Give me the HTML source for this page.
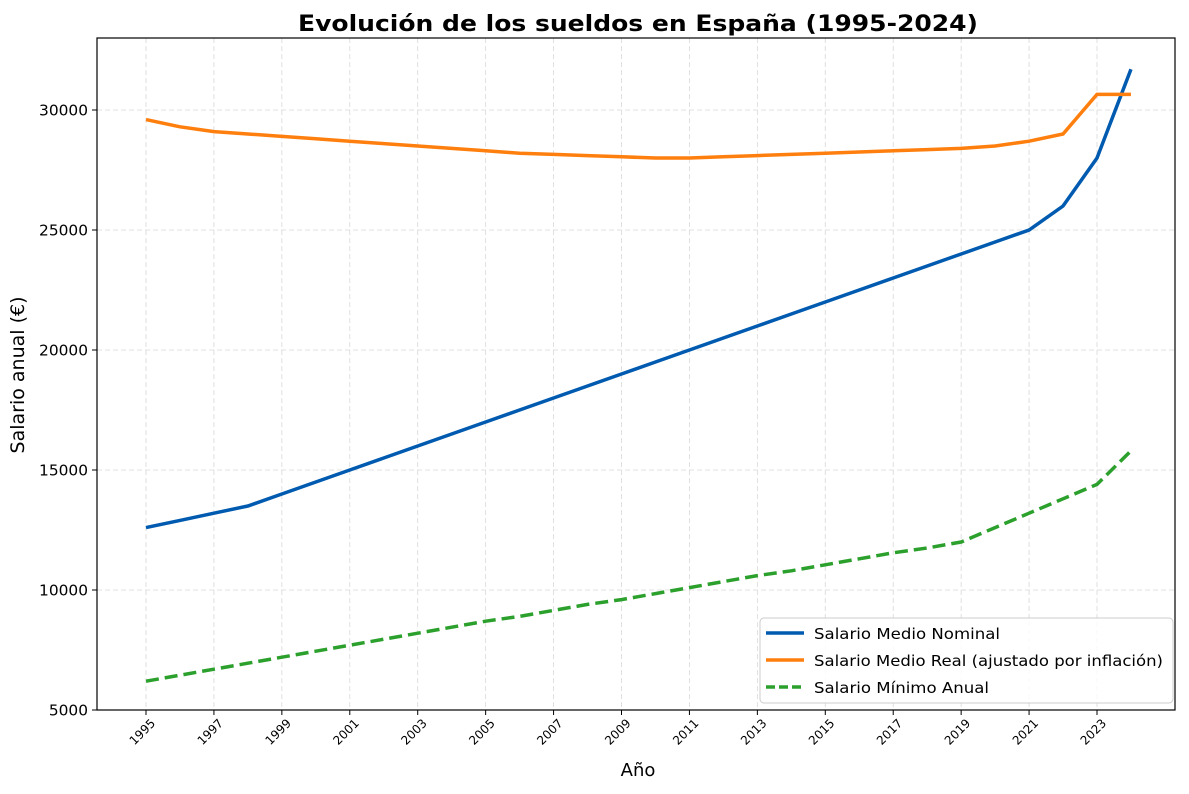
<!DOCTYPE html>
<html><head><meta charset="utf-8"><style>
body{margin:0;background:#fff;font-family:"DejaVu Sans","Liberation Sans",sans-serif}
</style></head><body>
<svg id="chart" width="1189" height="790" xmlns="http://www.w3.org/2000/svg" font-family="DejaVu Sans, Liberation Sans, sans-serif">
<text x="638" y="31" text-anchor="middle" font-size="22" font-weight="bold" fill="#000" textLength="680" lengthAdjust="spacingAndGlyphs">Evolución de los sueldos en España (1995-2024)</text>
<text x="638" y="776" text-anchor="middle" font-size="18">Año</text>
<text transform="translate(24,375) rotate(-90)" text-anchor="middle" font-size="19">Salario anual (€)</text>
<g id="grid"></g><g id="series"></g><g id="axes"></g>
</svg>
<script>
const years=[1995,1996,1997,1998,1999,2000,2001,2002,2003,2004,2005,2006,2007,2008,2009,2010,2011,2012,2013,2014,2015,2016,2017,2018,2019,2020,2021,2022,2023,2024];
const nominal=[12600,12900,13200,13500,14000,14500,15000,15500,16000,16500,17000,17500,18000,18500,19000,19500,20000,20500,21000,21500,22000,22500,23000,23500,24000,24500,25000,26000,28000,31700];
const real=[29600,29300,29100,29000,28900,28800,28700,28600,28500,28400,28300,28200,28150,28100,28050,28000,28000,28050,28100,28150,28200,28250,28300,28350,28400,28500,28700,29000,30650,30650];
const minimum=[6200,6450,6700,6950,7200,7450,7700,7950,8200,8450,8700,8900,9150,9400,9600,9850,10100,10350,10600,10800,11050,11300,11550,11750,12000,12600,13200,13800,14400,15800];
const yTicks=[5000,10000,15000,20000,25000,30000];
const xTicks=[1995,1997,1999,2001,2003,2005,2007,2009,2011,2013,2015,2017,2019,2021,2023];
const L=97,R=1175,T=38,B=710;
const xs=y=>146+(y-1995)*(1097-146)/28;
const ys=v=>110+(30000-v)*600/25000;
const NS="http://www.w3.org/2000/svg";
function mk(tag,attrs,parent){const e=document.createElementNS(NS,tag);for(const k in attrs)e.setAttribute(k,attrs[k]);parent.appendChild(e);return e;}
const g=document.getElementById('grid'),s=document.getElementById('series'),a=document.getElementById('axes');
xTicks.forEach(t=>{const x=xs(t);
 const l=mk('line',{x1:x,x2:x,y1:T,y2:B,stroke:'#d8d8d8','stroke-dasharray':'5,3','stroke-width':0.8},g);
 
 
 mk('line',{x1:x,x2:x,y1:B,y2:B+5,stroke:'#000'},a);
 const tx=mk('text',{transform:`translate(${x+10},${B+14}) rotate(-45)`,'text-anchor':'end','font-size':12},a);tx.textContent=t;
 
 
});
yTicks.forEach(t=>{const y=ys(t);
 const l=mk('line',{x1:L,x2:R,y1:y,y2:y,stroke:'#d8d8d8','stroke-dasharray':'5,3','stroke-width':0.8},g);
 
 
 mk('line',{x1:L-5,x2:L,y1:y,y2:y,stroke:'#000'},a);
 const tx=mk('text',{x:L-9,y:y+5.5,'text-anchor':'end','font-size':15.4},a);tx.textContent=t;
 
 
});
const fr=mk('rect',{x:L,y:T,width:R-L,height:B-T,fill:'none',stroke:'#000','stroke-width':1.2},a);


function line(vals,color,dash,name){const p=mk('polyline',{points:vals.map((v,i)=>xs(years[i])+','+ys(v)).join(' '),fill:'none',stroke:color,'stroke-width':3.5,'stroke-dasharray':dash},s);
 
 }
line(nominal,'#005bb0','none','line-nominal-salary');
line(real,'#ff7f0e','none','line-real-salary');
line(minimum,'#2ca02c','13,6','line-minimum-salary');
const lg=mk('g',{},a);


mk('rect',{x:760,y:618,width:413,height:85,rx:4,fill:'#fff','fill-opacity':0.85,stroke:'#ccc'},lg);
[['Salario Medio Nominal','#005bb0','none',186],['Salario Medio Real (ajustado por inflación)','#ff7f0e','none',349],['Salario Mínimo Anual','#2ca02c','9,4',175]].forEach((e,i)=>{
 const y=633+i*27;
 mk('line',{x1:766,x2:804,y1:y,y2:y,stroke:e[1],'stroke-width':3.5,'stroke-dasharray':e[2]},lg);
 const t=mk('text',{x:814,y:y+6,'font-size':15,textLength:e[3],lengthAdjust:'spacingAndGlyphs'},lg);t.textContent=e[0];
 
 
});
</script>
</body></html>
